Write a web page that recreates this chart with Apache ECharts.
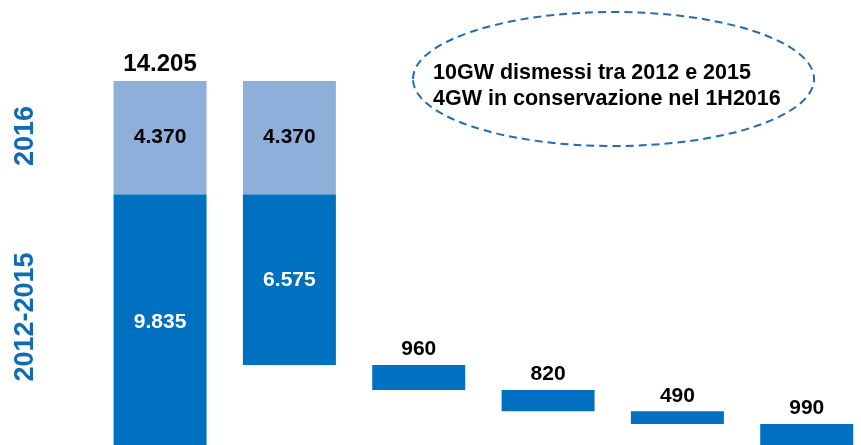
<!DOCTYPE html>
<html>
<head>
<meta charset="utf-8">
<script src="https://cdn.jsdelivr.net/npm/echarts@6/dist/echarts.min.js"></script>
<style>
html,body{margin:0;padding:0;background:#fff;overflow:hidden;}
#chart{width:890px;height:460px;}
</style>
</head>
<body>
<div id="chart"></div>
<script>
// ---- data ----
var categories = ['Totale', 'Residuo', 'Step 1', 'Step 2', 'Step 3', 'Step 4'];
var baseValues = [0, 3260, 2300, 1480, 990, 0];          // invisible waterfall offsets
var values2012_2015 = [9835, 6575, 960, 820, 490, 990];
var values2016 = [4370, 4370, null, null, null, null];
var totals = [14205, null, null, null, null, null];
var sideLabels = ['2016', '2012-2015'];
var noteLines = ['10GW dismessi tra 2012 e 2015', '4GW in conservazione nel 1H2016'];

function fmt(v) {
  var s = String(Math.round(v));
  return s.replace(/\B(?=(\d{3})+(?!\d))/g, '.');
}

var FONT = '"Liberation Sans", Arial, sans-serif';
var DARK = '#0070C0';
var LIGHT = '#8FAFDB';

var chart = echarts.init(document.getElementById('chart'), null, {renderer: 'canvas'});

var darkData = values2012_2015.map(function (v, i) {
  var inside = i < 2;
  return {
    value: v,
    label: {
      show: true,
      position: inside ? 'inside' : 'top',
      color: inside ? '#ffffff' : '#000000',
      fontSize: 21,
      fontWeight: 'bold',
      fontFamily: FONT,
      formatter: function (p) { return fmt(p.value); }
    }
  };
});

var lightData = values2016.map(function (v) { return v == null ? '-' : v; });
var totalData = totals.map(function (v) { return v == null ? '-' : v; });

var option = {
  animation: false,
  grid: {left: 95.4, width: 776, top: 34.3, height: 415.4, containLabel: false},
  xAxis: {type: 'category', data: categories, show: false},
  yAxis: {type: 'value', min: 0, max: 16000, show: false},
  series: [
    {
      name: 'base', type: 'bar', stack: 'w', barWidth: 93,
      data: baseValues,
      itemStyle: {color: 'transparent'},
      silent: true
    },
    {
      name: '2012-2015', type: 'bar', stack: 'w', barWidth: 93,
      data: darkData,
      itemStyle: {color: DARK}
    },
    {
      name: '2016', type: 'bar', stack: 'w', barWidth: 93,
      data: lightData,
      itemStyle: {color: LIGHT},
      label: {
        show: true, position: 'inside', color: '#000', fontSize: 21,
        fontWeight: 'bold', fontFamily: FONT,
        formatter: function (p) { return fmt(p.value); }
      }
    },
    {
      name: 'totale', type: 'scatter', symbolSize: 0,
      data: totalData,
      itemStyle: {opacity: 1},
      label: {
        show: true, position: 'top', distance: 5, color: '#000', fontSize: 24,
        fontWeight: 'bold', fontFamily: FONT,
        formatter: function (p) { return fmt(p.value); }
      }
    }
  ],
  graphic: [
    {
      type: 'text', x: 26, y: 136, rotation: Math.PI / 2,
      style: {text: sideLabels[0], fill: '#106BB4', font: 'bold 27px ' + FONT,
        textAlign: 'center', textVerticalAlign: 'middle'}
    },
    {
      type: 'text', x: 26, y: 317, rotation: Math.PI / 2,
      style: {text: sideLabels[1], fill: '#106BB4', font: 'bold 27px ' + FONT,
        textAlign: 'center', textVerticalAlign: 'middle'}
    },
    {
      type: 'ellipse',
      shape: {cx: 613.5, cy: 79, rx: 200.5, ry: 67},
      style: {fill: 'none', stroke: '#1F6DB5', lineWidth: 2, lineDash: [8, 5]}
    },
    {
      type: 'text', x: 433, y: 73,
      style: {text: noteLines[0], fill: '#000', font: 'bold 21.5px ' + FONT,
        textAlign: 'left', textVerticalAlign: 'middle'}
    },
    {
      type: 'text', x: 433, y: 99,
      style: {text: noteLines[1], fill: '#000', font: 'bold 21.5px ' + FONT,
        textAlign: 'left', textVerticalAlign: 'middle'}
    }
  ]
};
chart.setOption(option);
</script>
</body>
</html>
